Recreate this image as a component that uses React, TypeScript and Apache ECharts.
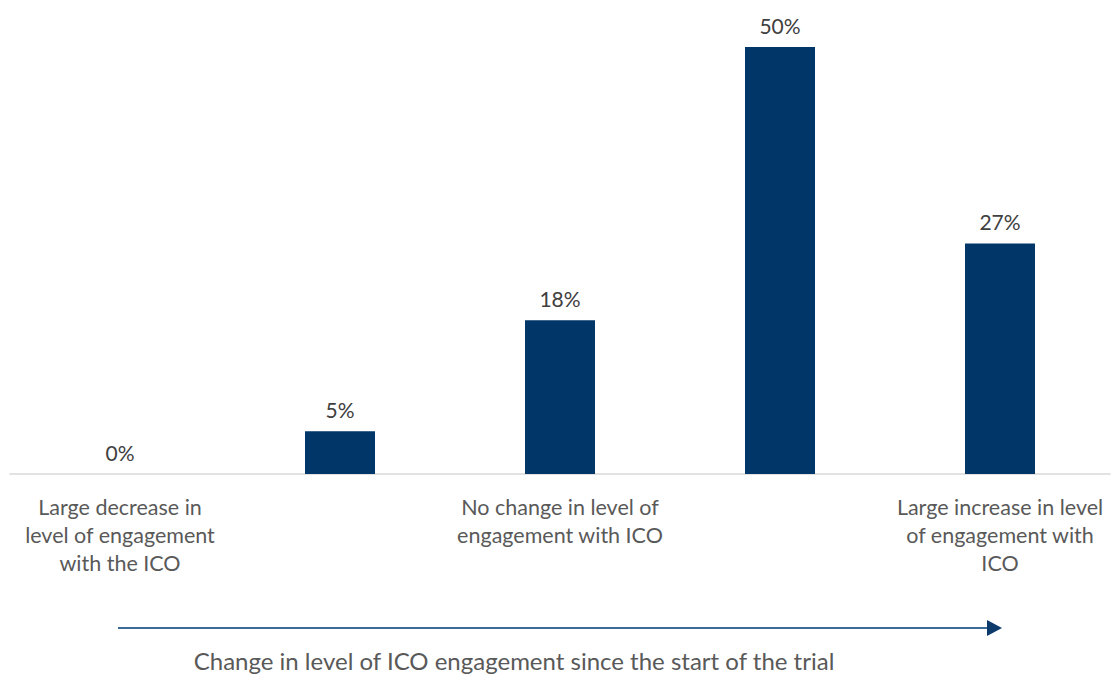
import React, { useEffect, useRef } from "react";
import * as echarts from "echarts";

const categories = [
  "Large decrease in\nlevel of engagement\nwith the ICO",
  "",
  "No change in level of\nengagement with ICO",
  "",
  "Large increase in level\nof engagement with\nICO",
];
const values = [0, 5, 18, 50, 27];
const axisTitle = "Change in level of ICO engagement since the start of the trial";

const FONT = "Lato, 'Open Sans', sans-serif";

export default function App() {
  const ref = useRef<HTMLDivElement>(null);
  useEffect(() => {
    if (!ref.current) return;
    const chart = echarts.init(ref.current, undefined, { renderer: "svg" });
    chart.setOption({
      animation: false,
      grid: { left: 10, right: 7, top: 47, bottom: 201, containLabel: false },
      xAxis: {
        type: "category",
        data: categories,
        axisLine: { show: true, lineStyle: { color: "#d9d9d9", width: 1.5 } },
        axisTick: { show: false },
        axisLabel: {
          interval: 0,
          margin: 19,
          fontSize: 21.5,
          lineHeight: 28,
          color: "#595959",
          fontFamily: FONT,
          align: "center",
        },
      },
      yAxis: { type: "value", min: 0, max: 50, show: false, splitLine: { show: false } },
      series: [
        {
          type: "bar",
          data: values,
          barWidth: 70,
          itemStyle: { color: "#013668" },
          label: {
            show: true,
            position: "top",
            distance: 11,
            formatter: "{c}%",
            fontSize: 21,
            color: "#404040",
            fontFamily: FONT,
          },
        },
      ],
      graphic: [
        {
          type: "line",
          shape: { x1: 118, y1: 628, x2: 992, y2: 628 },
          style: { stroke: "#3d6b97", lineWidth: 2 },
        },
        {
          type: "polygon",
          shape: { points: [[987, 620], [1002, 628], [987, 636]] },
          style: { fill: "#0b3a6b" },
        },
        {
          type: "text",
          x: 514,
          y: 660,
          style: {
            text: axisTitle,
            fontSize: 24,
            fill: "#595959",
            fontFamily: FONT,
            align: "center",
            verticalAlign: "middle",
          },
        },
      ],
    });
    return () => chart.dispose();
  }, []);
  return (
    <div
      ref={ref}
      style={{ position: "absolute", left: 0, top: 0, width: 1117, height: 675 }}
    />
  );
}
